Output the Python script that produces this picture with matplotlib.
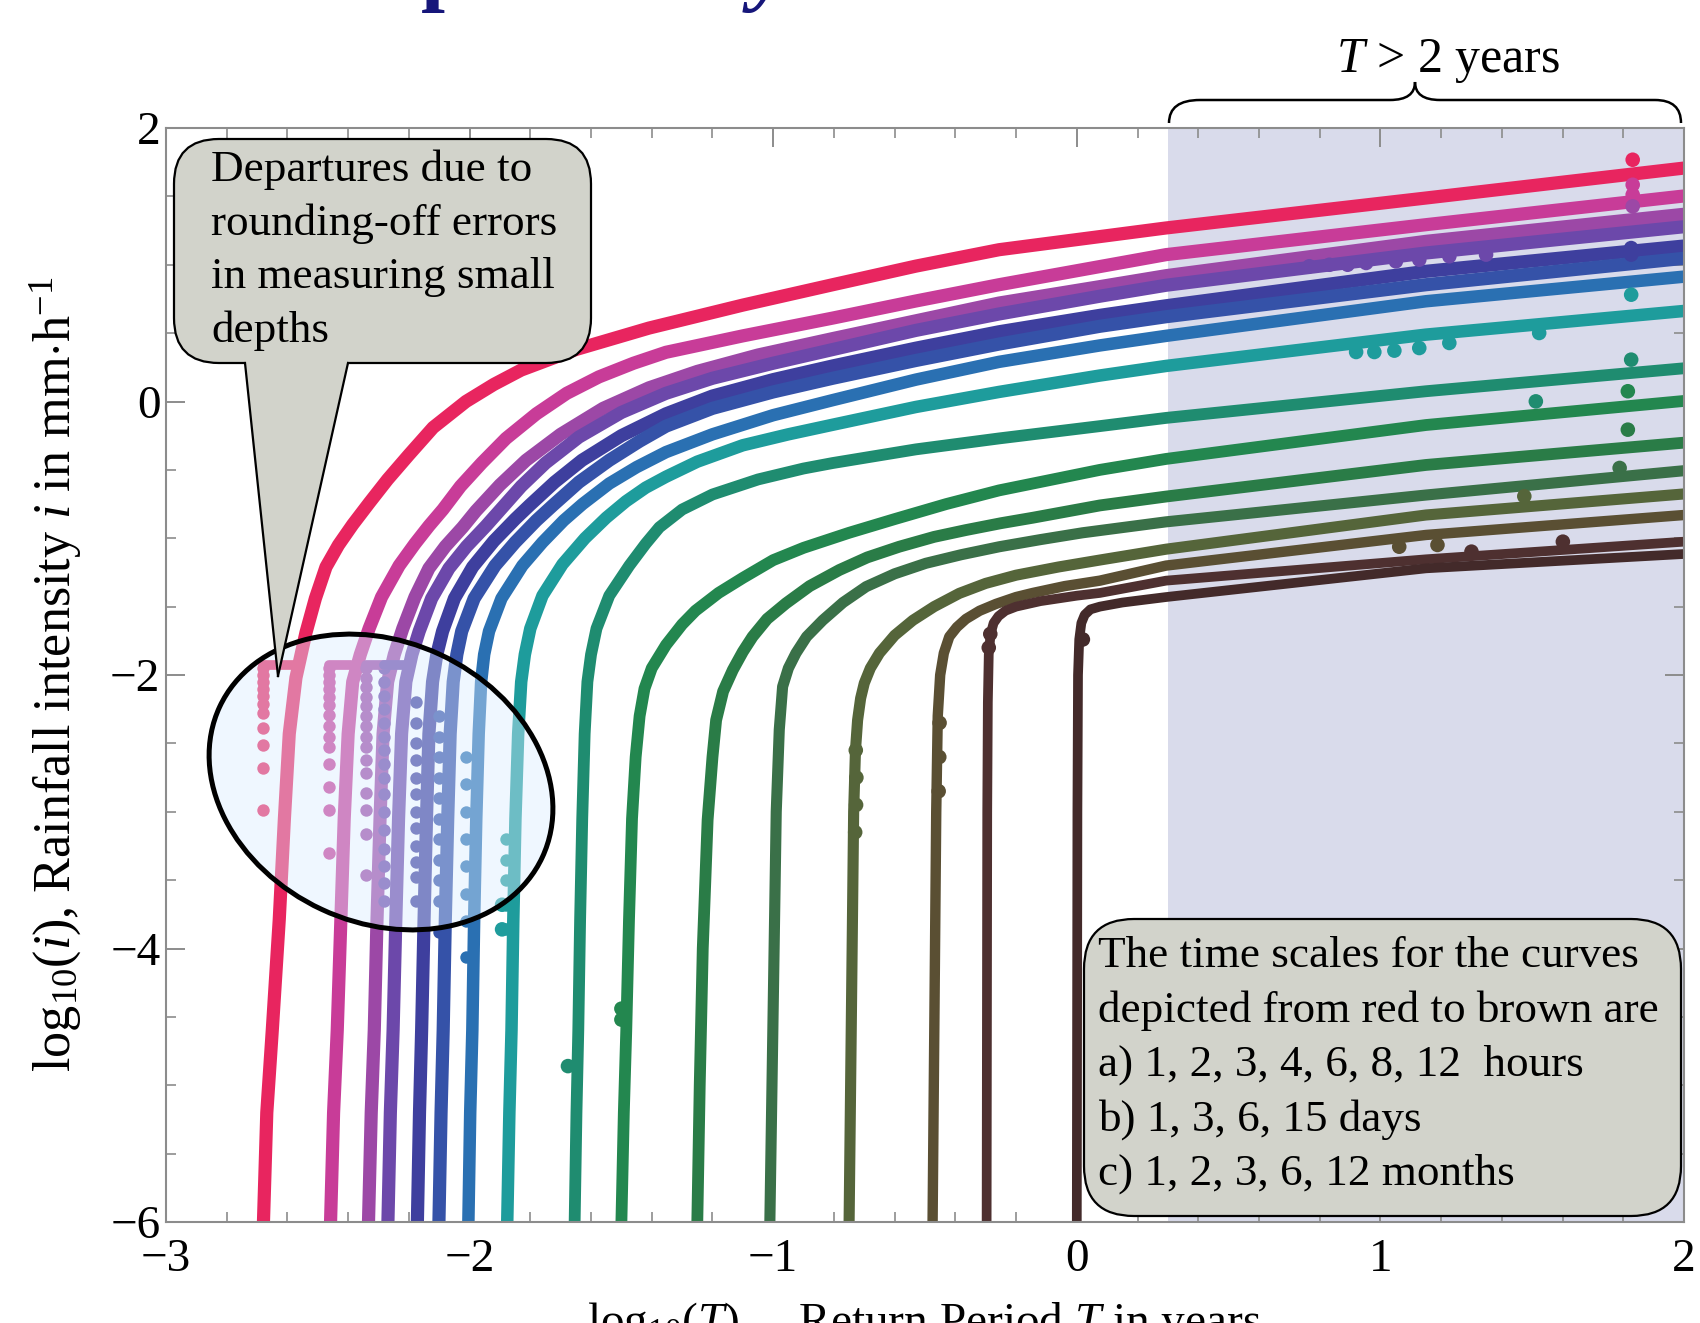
import matplotlib
matplotlib.use("Agg")
import numpy as np
import matplotlib.pyplot as plt
from matplotlib.patches import Ellipse, FancyBboxPatch, PathPatch, Polygon
from matplotlib.path import Path
from matplotlib.lines import Line2D
from matplotlib.ticker import MultipleLocator

plt.rcParams["font.family"] = ["Liberation Serif", "DejaVu Serif"]
plt.rcParams["mathtext.fontset"] = "custom"
plt.rcParams["mathtext.rm"] = "Liberation Serif"
plt.rcParams["mathtext.it"] = "Liberation Serif:italic"

# ---- data: log10(T) vs log10(i) for 16 time scales ----
h1_x = [-2.679, -2.668, -2.650, -2.627, -2.610, -2.594, -2.572, -2.539, -2.508, -2.473, -2.432, -2.385, -2.330, -2.270, -2.200, -2.120, -2.012, -1.920, -1.830, -1.650, -1.409, -1.100, -0.804, -0.530, -0.256, 0.294, 1.150, 2.000]
h1_y = [-6.00, -5.20, -4.60, -3.79, -3.05, -2.43, -2.02, -1.69, -1.44, -1.21, -1.05, -0.90, -0.74, -0.57, -0.39, -0.19, 0.00, 0.125, 0.23, 0.38, 0.537, 0.705, 0.854, 0.99, 1.110, 1.269, 1.488, 1.707]
h2_x = [-2.458, -2.448, -2.436, -2.424, -2.413, -2.400, -2.385, -2.360, -2.331, -2.290, -2.232, -2.180, -2.134, -2.088, -2.030, -1.960, -1.880, -1.780, -1.680, -1.574, -1.460, -1.353, -1.100, -0.804, -0.530, -0.256, 0.294, 1.150, 2.000]
h2_y = [-6.00, -5.20, -4.60, -3.79, -3.05, -2.43, -2.05, -1.85, -1.66, -1.43, -1.20, -1.04, -0.91, -0.79, -0.62, -0.45, -0.27, -0.09, 0.06, 0.18, 0.28, 0.36, 0.48, 0.61, 0.735, 0.854, 1.074, 1.293, 1.503]
h3_x = [-2.333, -2.324, -2.314, -2.305, -2.295, -2.285, -2.270, -2.248, -2.220, -2.180, -2.134, -2.080, -2.023, -1.979, -1.900, -1.814, -1.700, -1.560, -1.409, -1.250, -1.050, -0.804, -0.530, -0.256, 0.076, 0.294, 1.150, 2.000]
h3_y = [-6.00, -5.20, -4.60, -3.79, -3.05, -2.43, -2.05, -1.85, -1.66, -1.43, -1.22, -1.06, -0.92, -0.80, -0.61, -0.43, -0.24, -0.05, 0.10, 0.22, 0.34, 0.46, 0.59, 0.72, 0.84, 0.92, 1.171, 1.369]
h4_x = [-2.269, -2.261, -2.252, -2.243, -2.234, -2.224, -2.210, -2.190, -2.166, -2.125, -2.068, -2.010, -1.946, -1.902, -1.830, -1.750, -1.640, -1.500, -1.353, -1.200, -1.000, -0.804, -0.530, -0.256, 0.076, 0.294, 1.150, 2.000]
h4_y = [-6.00, -5.20, -4.60, -3.79, -3.05, -2.43, -2.05, -1.85, -1.68, -1.44, -1.22, -1.06, -0.91, -0.80, -0.62, -0.45, -0.26, -0.08, 0.06, 0.17, 0.28, 0.38, 0.52, 0.64, 0.77, 0.85, 1.086, 1.278]
h6_x = [-2.172, -2.165, -2.158, -2.150, -2.142, -2.134, -2.122, -2.108, -2.089, -2.050, -1.990, -1.920, -1.850, -1.803, -1.720, -1.630, -1.500, -1.353, -1.200, -1.000, -0.804, -0.530, -0.256, 0.076, 0.294, 1.150, 2.000]
h6_y = [-6.00, -5.20, -4.60, -3.79, -3.05, -2.43, -2.05, -1.85, -1.68, -1.44, -1.21, -1.02, -0.86, -0.76, -0.59, -0.43, -0.25, -0.09, 0.04, 0.16, 0.26, 0.39, 0.51, 0.63, 0.70, 0.952, 1.137]
h8_x = [-2.101, -2.094, -2.087, -2.080, -2.072, -2.064, -2.054, -2.042, -2.026, -1.985, -1.916, -1.850, -1.780, -1.726, -1.640, -1.540, -1.440, -1.353, -1.200, -1.000, -0.804, -0.530, -0.256, 0.076, 0.294, 1.150, 2.000]
h8_y = [-6.00, -5.20, -4.60, -3.79, -3.05, -2.43, -2.05, -1.85, -1.68, -1.44, -1.20, -1.03, -0.87, -0.76, -0.59, -0.43, -0.29, -0.18, -0.05, 0.07, 0.17, 0.30, 0.42, 0.55, 0.62, 0.854, 1.047]
h12_x = [-2.004, -1.998, -1.991, -1.985, -1.978, -1.970, -1.962, -1.952, -1.936, -1.895, -1.826, -1.760, -1.690, -1.628, -1.540, -1.450, -1.353, -1.200, -1.000, -0.804, -0.530, -0.256, 0.076, 0.294, 1.150, 2.000]
h12_y = [-6.00, -5.20, -4.60, -3.79, -3.05, -2.43, -2.05, -1.85, -1.68, -1.44, -1.20, -1.03, -0.87, -0.75, -0.60, -0.48, -0.37, -0.24, -0.10, 0.01, 0.16, 0.29, 0.41, 0.48, 0.733, 0.913]
d1_x = [-1.876, -1.869, -1.862, -1.856, -1.849, -1.840, -1.830, -1.818, -1.800, -1.760, -1.694, -1.620, -1.550, -1.485, -1.420, -1.353, -1.250, -1.100, -0.950, -0.804, -0.530, -0.256, 0.076, 0.294, 1.150, 2.000]
d1_y = [-6.00, -5.20, -4.60, -3.79, -3.05, -2.43, -2.05, -1.85, -1.66, -1.42, -1.19, -1.00, -0.85, -0.73, -0.63, -0.55, -0.44, -0.32, -0.24, -0.17, -0.04, 0.07, 0.19, 0.26, 0.489, 0.662]
d3_x = [-1.654, -1.648, -1.642, -1.636, -1.629, -1.621, -1.612, -1.600, -1.582, -1.540, -1.474, -1.420, -1.375, -1.300, -1.200, -1.050, -0.900, -0.804, -0.530, -0.256, 0.076, 0.294, 1.150, 2.000]
d3_y = [-6.00, -5.20, -4.60, -3.79, -3.05, -2.43, -2.05, -1.85, -1.66, -1.42, -1.20, -1.04, -0.92, -0.79, -0.68, -0.57, -0.49, -0.45, -0.35, -0.27, -0.18, -0.12, 0.075, 0.243]
d6_x = [-1.500, -1.492, -1.484, -1.475, -1.465, -1.453, -1.440, -1.424, -1.400, -1.353, -1.300, -1.256, -1.180, -1.100, -1.000, -0.900, -0.750, -0.600, -0.430, -0.256, 0.076, 0.294, 1.150, 2.000]
d6_y = [-6.00, -5.20, -4.60, -3.79, -3.05, -2.60, -2.30, -2.10, -1.95, -1.78, -1.63, -1.53, -1.40, -1.29, -1.16, -1.07, -0.96, -0.86, -0.75, -0.65, -0.50, -0.42, -0.172, 0.004]
d15_x = [-1.250, -1.242, -1.232, -1.216, -1.200, -1.188, -1.165, -1.133, -1.100, -1.068, -1.020, -0.958, -0.880, -0.782, -0.690, -0.585, -0.470, -0.365, -0.250, -0.145, 0.076, 0.294, 1.150, 2.000]
d15_y = [-6.00, -5.00, -4.00, -3.06, -2.60, -2.33, -2.12, -1.963, -1.83, -1.72, -1.59, -1.476, -1.35, -1.232, -1.14, -1.062, -0.99, -0.94, -0.89, -0.85, -0.76, -0.695, -0.464, -0.301]
m1_x = [-1.011, -1.004, -0.997, -0.990, -0.980, -0.969, -0.950, -0.925, -0.890, -0.837, -0.770, -0.694, -0.600, -0.497, -0.380, -0.255, -0.120, 0.019, 0.294, 1.150, 2.000]
m1_y = [-6.00, -5.00, -4.00, -3.00, -2.40, -2.085, -1.95, -1.84, -1.72, -1.60, -1.47, -1.354, -1.26, -1.183, -1.12, -1.062, -1.01, -0.96, -0.88, -0.684, -0.506]
m2_x = [-0.750, -0.745, -0.740, -0.735, -0.729, -0.722, -0.712, -0.700, -0.680, -0.650, -0.600, -0.540, -0.470, -0.387, -0.300, -0.200, -0.060, 0.074, 0.294, 1.150, 2.000]
m2_y = [-6.00, -5.00, -4.00, -3.00, -2.55, -2.33, -2.17, -2.06, -1.95, -1.84, -1.71, -1.60, -1.50, -1.403, -1.33, -1.27, -1.21, -1.16, -1.08, -0.830, -0.676]
m3_x = [-0.475, -0.471, -0.467, -0.463, -0.458, -0.450, -0.438, -0.420, -0.395, -0.365, -0.320, -0.266, -0.200, -0.145, -0.040, 0.076, 0.294, 1.150, 2.000]
m3_y = [-6.00, -5.00, -4.00, -3.00, -2.30, -2.00, -1.84, -1.72, -1.65, -1.59, -1.53, -1.48, -1.43, -1.40, -1.35, -1.31, -1.20, -0.976, -0.830]
m6_x = [-0.297, -0.296, -0.295, -0.293, -0.290, -0.284, -0.274, -0.258, -0.235, -0.200, -0.120, 0.000, 0.076, 0.294, 1.150, 2.000]
m6_y = [-6.00, -4.50, -3.00, -2.20, -1.85, -1.70, -1.62, -1.57, -1.53, -1.50, -1.46, -1.42, -1.40, -1.31, -1.154, -1.025]
m12_x = [0.000, 0.001, 0.002, 0.004, 0.008, 0.015, 0.026, 0.045, 0.076, 0.150, 0.294, 1.150, 2.000]
m12_y = [-6.00, -4.50, -3.00, -2.00, -1.74, -1.62, -1.56, -1.52, -1.50, -1.47, -1.43, -1.220, -1.115]

curve_colors = ["#e8255f", "#c83c98", "#9c48a6", "#6c48aa", "#3e3f9e", "#3552a8",
                "#2a70b2", "#1e9c9c", "#1f8c70", "#23874f", "#2a7c47", "#3a7048",
                "#55653a", "#5a4f33", "#4e3030", "#432a2a"]
curve_widths = [9.5, 9.5, 9.5, 9.5, 9.5, 9.5, 9.0, 9.0, 8.5, 8.5, 8.5, 8.0, 8.0, 7.5, 7.0, 7.0]

# rounding-off departures: dotted columns near the small depths
dep_x = [-2.682, -2.462, -2.341, -2.281, -2.177, -2.100, -2.012, -1.880]
dep1_y = [-1.95, -2.00, -2.05, -2.10, -2.15, -2.21, -2.28, -2.39, -2.51, -2.68, -2.99]
dep2_y = [-1.95, -2.00, -2.05, -2.10, -2.16, -2.22, -2.29, -2.37, -2.45, -2.53, -2.65, -2.82, -2.99, -3.30]
dep3_y = [-1.95, -2.02, -2.09, -2.16, -2.23, -2.30, -2.37, -2.45, -2.53, -2.62, -2.72, -2.86, -2.99, -3.16, -3.46]
dep4_y = [-1.95, -2.05, -2.15, -2.25, -2.35, -2.45, -2.55, -2.65, -2.75, -2.87, -3.00, -3.13, -3.27, -3.40, -3.52, -3.65]
dep5_y = [-2.20, -2.35, -2.50, -2.62, -2.75, -2.87, -3.00, -3.12, -3.25, -3.37, -3.48, -3.65]
dep6_y = [-2.30, -2.45, -2.60, -2.75, -2.90, -3.05, -3.20, -3.35, -3.50, -3.65, -3.88]
dep7_y = [-2.60, -2.80, -3.00, -3.20, -3.40, -3.60, -3.80, -4.06]
dep8_y = [-3.20, -3.35, -3.50, -3.68, -3.86]
stair_y = -1.93
stair_end_x = [-2.570, -2.390, -2.275, -2.212]

# scattered points off the curves (x, y, curve number)
extra_x = [1.831, 1.831, 1.831, 1.831, 1.826, 1.826, 1.826, 0.920, 0.980, 1.046, 1.128, 1.227, 1.523,
           1.826, 1.512, 1.815, 1.815, 1.788, 1.474, 1.601, 1.188, 1.062, 1.300,
           0.766, 0.832, 0.892, 0.953, 1.051, 1.128, 1.227, 1.348,
           -1.893, -1.893, -1.676, -1.500, -1.500, 0.020, -0.290, -0.285,
           -0.728, -0.726, -0.727, -0.730, -0.452, -0.453, -0.455]
extra_y = [1.768, 1.585, 1.512, 1.427, 1.122, 1.074, 0.781, 0.362, 0.362, 0.372, 0.391, 0.428, 0.501,
           0.306, 0.001, 0.075, -0.206, -0.486, -0.693, -1.025, -1.049, -1.062, -1.098,
           0.989, 1.000, 1.000, 1.013, 1.025, 1.037, 1.062, 1.074,
           -3.68, -3.86, -4.86, -4.44, -4.52, -1.74, -1.80, -1.70,
           -2.55, -2.75, -2.95, -3.15, -2.35, -2.60, -2.85]
extra_c = [1, 2, 2, 3, 5, 5, 8, 8, 8, 8, 8, 8, 8,
           9, 9, 10, 11, 12, 13, 15, 14, 14, 15,
           4, 4, 4, 4, 4, 4, 4, 4,
           8, 8, 9, 10, 10, 16, 15, 15,
           13, 13, 13, 13, 14, 14, 14]

shade_from_T = 2  # years

curves = [(h1_x, h1_y), (h2_x, h2_y), (h3_x, h3_y), (h4_x, h4_y), (h6_x, h6_y), (h8_x, h8_y),
          (h12_x, h12_y), (d1_x, d1_y), (d3_x, d3_y), (d6_x, d6_y), (d15_x, d15_y),
          (m1_x, m1_y), (m2_x, m2_y), (m3_x, m3_y), (m6_x, m6_y), (m12_x, m12_y)]
dep_y = [dep1_y, dep2_y, dep3_y, dep4_y, dep5_y, dep6_y, dep7_y, dep8_y]

W, H = 1700, 1323
fig = plt.figure(figsize=(W / 100, H / 100), dpi=100)
ax = fig.add_axes([166 / W, 1 - 1222 / H, (1684 - 166) / W, (1222 - 128) / H])
inch = fig.dpi_scale_trans


def pt(x, y):
    # figure pixel (from top-left) -> inches for dpi_scale_trans
    return (x / 100, (H - y) / 100)


ax.axvspan(np.log10(shade_from_T), 2, color="#d9dbeb", lw=0, zorder=0)

for (cx, cy), col, lw in zip(curves, curve_colors, curve_widths):
    ax.plot(cx, cy, color=col, lw=lw, solid_capstyle="butt", solid_joinstyle="round", zorder=2)

for i, (xc, ys) in enumerate(zip(dep_x, dep_y)):
    ax.scatter([xc] * len(ys), ys, s=80, color=curve_colors[i], linewidths=0, zorder=3)
for i, xe in enumerate(stair_end_x):
    ax.plot([dep_x[i], xe], [stair_y, stair_y], color=curve_colors[i], lw=7, zorder=3,
            solid_capstyle="round")

ax.scatter(extra_x, extra_y, s=110, c=[curve_colors[k - 1] for k in extra_c], linewidths=0, zorder=3)

ax.set_xlim(-3, 2)
ax.set_ylim(-6, 2)
ax.set_xticks(range(-3, 3))
ax.set_yticks([-6, -4, -2, 0, 2])
ax.xaxis.set_minor_locator(MultipleLocator(0.2))
ax.yaxis.set_minor_locator(MultipleLocator(0.5))
ax.tick_params(which="both", direction="in", top=True, right=True, colors="#8c8c8c",
               labelcolor="black", labelsize=34)
ax.tick_params(which="major", length=14, width=1.4)
ax.tick_params(which="minor", length=7, width=1.2)
ax.tick_params(axis="x", pad=12)
ax.tick_params(axis="y", pad=4)
for s in ax.spines.values():
    s.set_color("#8c8c8c")
    s.set_linewidth(1.5)

fig.text(55 / W, 1 - 674 / H, r"log$_{10}$($i$), Rainfall intensity $i$ in mm$\cdot$h$^{-1}$",
         rotation=90, ha="center", va="center", fontsize=37.5)
fig.text(924 / W, 1 - 1300 / H, r"log$_{10}$($T$)     Return Period $T$ in years",
         ha="center", va="top", fontsize=34)

# ellipse around the rounding-off departures
fig.add_artist(Ellipse(pt(381, 782), 3.56, 2.81, angle=-25, transform=inch,
                       facecolor=(0.86, 0.93, 1.0, 0.42), edgecolor="black", lw=3.6, zorder=4))

box_fc = "#d2d3cb"
# top-left speech bubble
fig.add_artist(FancyBboxPatch(pt(174, 363), 4.17, 2.24, boxstyle="round,pad=0,rounding_size=0.45",
                              transform=inch, facecolor=box_fc, edgecolor="black", lw=1.6, zorder=5))
fig.add_artist(Polygon([pt(245, 360), pt(348, 360), pt(278, 676)], closed=True, transform=inch,
                       facecolor=box_fc, edgecolor="none", zorder=6))
fig.add_artist(Line2D([245 / 100, 278 / 100], [(H - 363) / 100, (H - 676) / 100], transform=inch,
                      color="black", lw=1.6, zorder=6))
fig.add_artist(Line2D([348 / 100, 278 / 100], [(H - 363) / 100, (H - 676) / 100], transform=inch,
                      color="black", lw=1.6, zorder=6))
bubble_lines = ["Departures due to", "rounding-off errors", "in measuring small", "depths"]
for k, line in enumerate(bubble_lines):
    fig.text(211 / W, 1 - (170 + 53.5 * k) / H, line, ha="left", va="center", fontsize=32.5, zorder=7)

# bottom-right note
fig.add_artist(FancyBboxPatch(pt(1084, 1216), 5.97, 2.97, boxstyle="round,pad=0,rounding_size=0.5",
                              transform=inch, facecolor=box_fc, edgecolor="black", lw=1.6, zorder=5))
note_lines = ["The time scales for the curves", "depicted from red to brown are",
              "a) 1, 2, 3, 4, 6, 8, 12  hours", "b) 1, 3, 6, 15 days", "c) 1, 2, 3, 6, 12 months"]
for k, line in enumerate(note_lines):
    fig.text(1098 / W, 1 - (956 + 54.5 * k) / H, line, ha="left", va="center", fontsize=32.5, zorder=7)

# brace over the T > 2 years band
bx = [1169, 1169, 1200, 1390, 1415, 1415, 1415, 1440, 1655, 1681, 1681]
by = [123, 100, 100, 100, 100, 82, 100, 100, 100, 100, 123]
codes = [Path.MOVETO, Path.CURVE3, Path.CURVE3, Path.LINETO, Path.CURVE3, Path.CURVE3,
         Path.CURVE3, Path.CURVE3, Path.LINETO, Path.CURVE3, Path.CURVE3]
brace = Path([pt(x, y) for x, y in zip(bx, by)], codes)
fig.add_artist(PathPatch(brace, transform=inch, facecolor="none", edgecolor="black", lw=1.8, zorder=5))
fig.text(1448 / W, 1 - 61 / H, r"$T$ > 2 years", ha="center", va="center", fontsize=36)

# clipped slide title above the figure
fig.text(445 / W, 1 + 6 / H, "p", ha="center", va="baseline", fontsize=62, fontweight="bold", color="#16167a")
fig.text(770 / W, 1 + 6 / H, "y", ha="center", va="baseline", fontsize=62, fontweight="bold",
         fontstyle="italic", color="#16167a")

fig.savefig("out.png", dpi=100)
